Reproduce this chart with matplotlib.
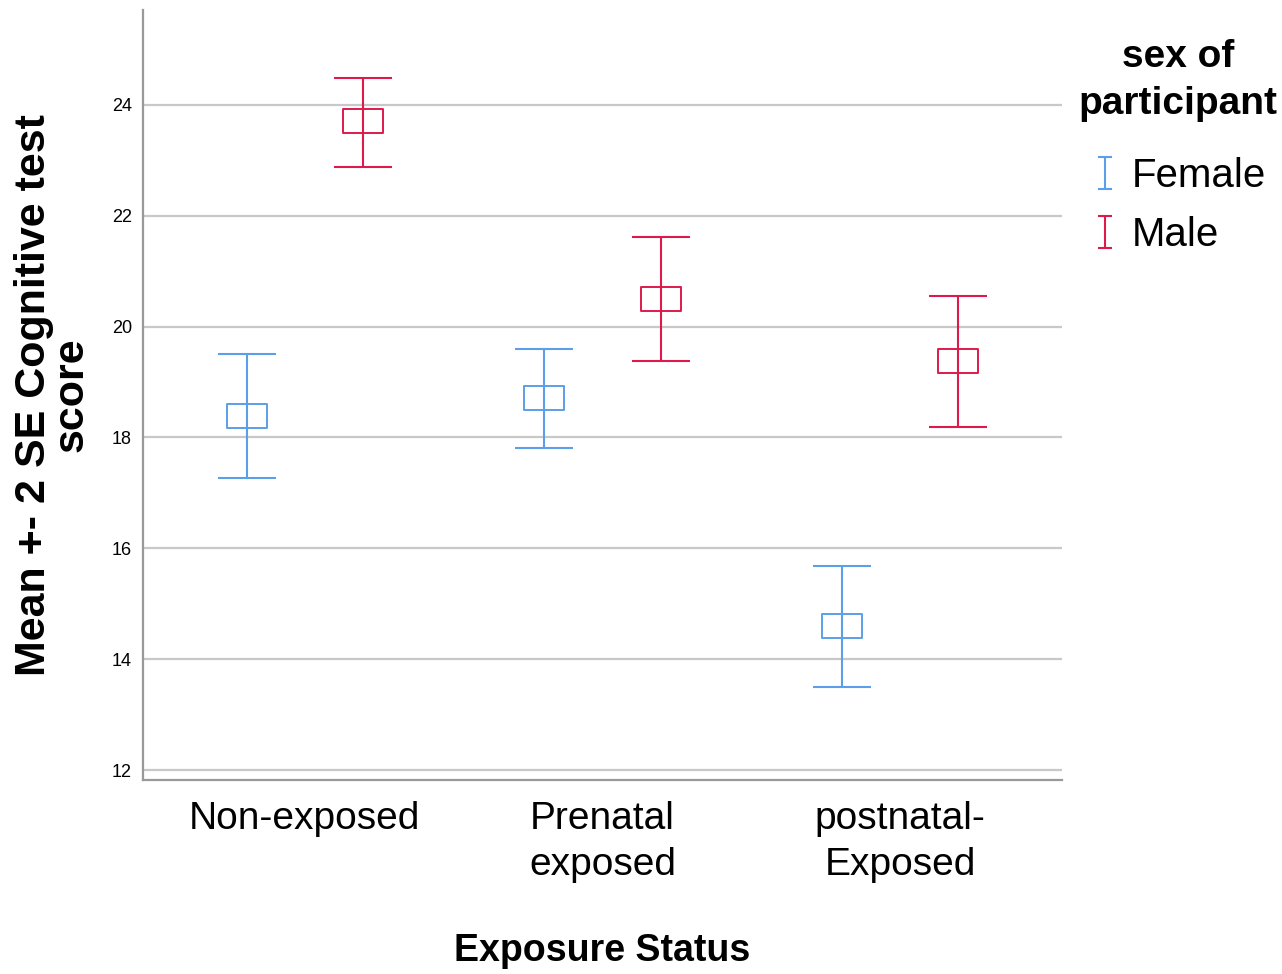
import matplotlib
matplotlib.use("Agg")
import matplotlib.pyplot as plt
from matplotlib.lines import Line2D
from matplotlib.path import Path

# Mean +- 2 SE cognitive test score
categories = ["Non-exposed", "Prenatal\nexposed", "postnatal-\nExposed"]
groups = ["Female", "Male"]
female_mean = [18.39, 18.71, 14.60]
female_low = [17.27, 17.81, 13.50]
female_high = [19.51, 19.60, 15.68]
male_mean = [23.71, 20.50, 19.38]
male_low = [22.88, 19.38, 18.19]
male_high = [24.49, 21.62, 20.56]
yticks = [12, 14, 16, 18, 20, 22, 24]

BLUE = "#5b9fe8"
RED = "#de1a4d"

plt.rcParams["font.family"] = ["Liberation Sans", "DejaVu Sans"]

# rectangle marker for the mean, "I" marker for the legend
box = Path([(-1, -0.6), (1, -0.6), (1, 0.6), (-1, 0.6), (-1, -0.6)],
           [Path.MOVETO, Path.LINETO, Path.LINETO, Path.LINETO, Path.CLOSEPOLY])
ibeam = Path([(-0.45, 1), (0.45, 1), (0, 1), (0, -1), (-0.45, -1), (0.45, -1)],
             [Path.MOVETO, Path.LINETO, Path.MOVETO, Path.LINETO, Path.MOVETO, Path.LINETO])

fig = plt.figure(figsize=(12.82, 9.74), dpi=100)
ax = fig.add_axes([0.1115, 0.1992, 0.717, 0.7905])

offset = 0.195
series = [
    (female_mean, female_low, female_high, BLUE, -offset),
    (male_mean, male_low, male_high, RED, offset),
]
for means, lows, highs, color, dx in series:
    xs = [i + dx for i in range(len(categories))]
    err = [[m - lo for m, lo in zip(means, lows)], [hi - m for m, hi in zip(means, highs)]]
    ax.errorbar(xs, means, yerr=err, fmt="none", ecolor=color, elinewidth=1.5,
                capsize=21, capthick=1.5, zorder=3)
    ax.plot(xs, means, linestyle="none", marker=box, markersize=29,
            markerfacecolor="none", markeredgecolor=color, markeredgewidth=1.4, zorder=4)

ax.set_xlim(-0.544, 2.544)
ax.set_ylim(11.82, 25.71)
ax.set_yticks(yticks)
ax.set_xticks(range(len(categories)))
ax.set_xticklabels(categories, fontsize=28)
for lbl in ax.get_xticklabels():
    lbl.set_linespacing(1.35)
ax.tick_params(axis="x", length=0, pad=15)
ax.tick_params(axis="y", length=0, pad=8, labelsize=13)
ax.grid(axis="y", color="#c8c8c8", linewidth=1.6, zorder=1)
ax.set_axisbelow(True)
for side in ("top", "right"):
    ax.spines[side].set_visible(False)
for side in ("left", "bottom"):
    ax.spines[side].set_color("#999999")
    ax.spines[side].set_linewidth(1.6)

ax.set_ylabel("Mean +- 2 SE Cognitive test\nscore", fontsize=31, fontweight="bold",
              linespacing=0.92)
ax.yaxis.set_label_coords(-0.056, 0.5)
ax.set_xlabel("Exposure Status", fontsize=27, fontweight="bold", labelpad=36)

handles = [Line2D([], [], linestyle="none", marker=ibeam, markersize=23,
                  markerfacecolor="none", markeredgecolor=c, markeredgewidth=1.5)
           for c in (BLUE, RED)]
leg = ax.legend(handles, groups, title="sex of\nparticipant", loc="upper left",
                bbox_to_anchor=(1.0, 0.983), frameon=False, fontsize=29,
                title_fontproperties={"weight": "bold", "size": 28},
                handlelength=0.75, handletextpad=0.3, labelspacing=0.52,
                borderaxespad=0)
leg.get_title().set_multialignment("center")
leg.get_title().set_linespacing(1.4)
leg._legend_box.sep = 25  # gap between title and entries

fig.savefig("out.png", dpi=100)
